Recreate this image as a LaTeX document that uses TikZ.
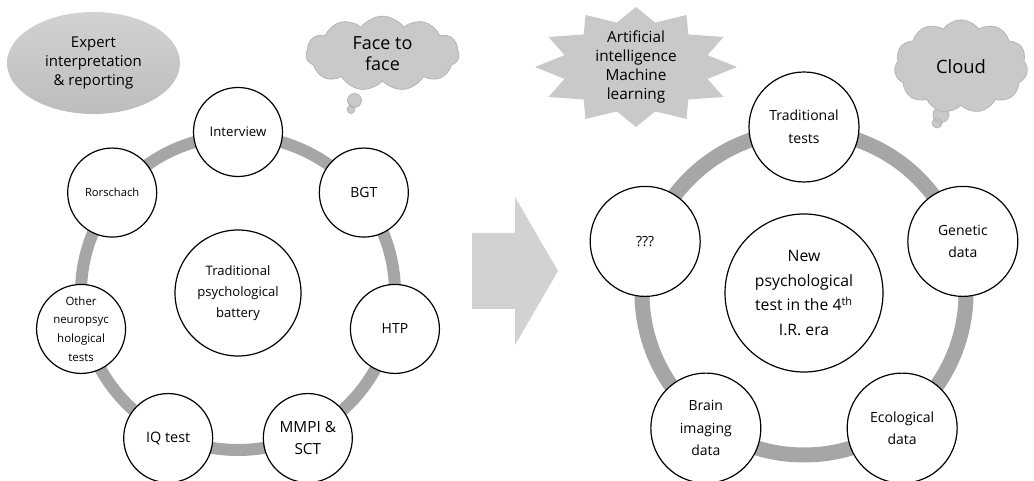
\documentclass[tikz,border=0pt]{standalone}
\usepackage{fontspec}
\setmainfont{Open Sans}
\usetikzlibrary{shapes.symbols,shapes.geometric}

\definecolor{ringgray}{HTML}{A6A6A6}
\definecolor{shapelight}{HTML}{D2D2D2}
\definecolor{shapedark}{HTML}{BDBDBD}
\definecolor{puffgray}{HTML}{C9C9C9}
\definecolor{puffline}{HTML}{B0B0B0}

\newcommand{\fsz}[2]{\fontsize{#1}{#2}\selectfont}

\begin{document}
\begin{tikzpicture}[x=0.75pt,y=0.75pt,
  ring/.style={draw=ringgray,line width=#1},
  oldtest/.style={circle,draw,fill=white,line width=0.9pt,minimum size=66.75pt,inner sep=0pt,align=center,font=\fsz{10.5}{16}},
  oldsmall/.style={font=\fsz{8.6}{14}},
  battery/.style={circle,draw,fill=white,line width=0.9pt,minimum size=94.5pt,inner sep=0pt,align=center,font=\fsz{9.8}{15.5}},
  newtest/.style={circle,draw,fill=white,line width=0.9pt,minimum size=82.5pt,inner sep=0pt,align=center,font=\fsz{10.5}{17}},
  newcore/.style={circle,draw,fill=white,line width=0.9pt,minimum size=118.5pt,inner sep=0pt,align=center,font=\fsz{11.8}{18.5}},
  expertbox/.style={ellipse,top color=shapelight,bottom color=shapedark,minimum width=129.75pt,minimum height=76.5pt,align=center,font=\fsz{11.2}{14.5}},
  thought/.style={cloud,cloud puffs=11,cloud puff arc=110,cloud ignores aspect,fill=puffgray,draw=puffline,line width=0.5pt,align=center},
  puff/.style={fill=puffgray,draw=puffline,line width=0.5pt},
  aistar/.style={fill=puffgray},
  bigarrow/.style={fill=shapelight}]

\useasboundingbox (0,0) rectangle (1034,481);

% top labels
\node[expertbox] (expert) at (93.5,418) {Expert\\interpretation\\\& reporting};

\path[puff] (354.5,380.5) circle (7) (351,371.5) circle (4);
\node[thought,minimum width=115pt,minimum height=56pt,font=\fsz{13.5}{16}] (face) at (382.5,427.5) {Face to\\face};

\begin{scope}[shift={(636,414)}]
\fill[aistar] (0:101 and 60) \foreach \a [evaluate=\a as \b using \a+15, evaluate=\a as \c using \a+30] in {0,30,...,330}{ -- (\b:74 and 46) -- (\c:101 and 60)} -- cycle;
\end{scope}
\node[align=center,font=\fsz{11.5}{14.3}] (ai) at (636,414) {Artificial\\intelligence\\Machine\\learning};

\path[puff] (941,366.5) circle (8) (937,358) circle (5);
\node[thought,minimum width=100pt,minimum height=70pt,font=\fsz{13.8}{16}] (cloud) at (961,414.5) {Cloud};

% left: traditional battery
\begin{scope}[shift={(238,188)}]
\draw[ring=9pt] (0,0) circle (157);
\node[battery] (oldcore) at (0,0) {Traditional\\psychological\\battery};
\node[oldtest,font=\fsz{9.9}{16}] (interview) at (90:161) {Interview};
\node[oldtest] (bgt) at (38.6:161) {BGT};
\node[oldtest] (htp) at (-12.9:161) {HTP};
\node[oldtest,font=\fsz{11.5}{16}] (mmpi) at (-64.3:161) {MMPI \&\\SCT};
\node[oldtest,font=\fsz{10.8}{16}] (iq) at (-115.7:161) {IQ test};
\node[oldtest,oldsmall] (neuro) at (192.9:161) {Other\\neuropsyc\\hological\\tests};
\node[oldtest,font=\fsz{8.4}{14}] (rorschach) at (141.4:161) {Rorschach};
\end{scope}

% arrow
\fill[bigarrow] (472,248) -- (515,248) -- (515,284) -- (558,210) -- (515,136) -- (515,172) -- (472,172) -- cycle;

% right: 4th I.R. era
\begin{scope}[shift={(804,188)}]
\draw[ring=11.25pt] (0,0) circle (162);
\node[newcore] (newcore) at (0,0) {New\\psychological\\test in the 4\textsuperscript{th}\\I.R. era};
\node[newtest] (tradtests) at (90:166) {Traditional\\tests};
\node[newtest] (genetic) at (18:167) {Genetic\\data};
\node[newtest] (ecological) at (-54:167) {Ecological\\data};
\node[newtest] (brain) at (-126:167) {Brain\\imaging\\data};
\node[newtest] (unknown) at (162:167) {???};
\end{scope}

\end{tikzpicture}
\end{document}
